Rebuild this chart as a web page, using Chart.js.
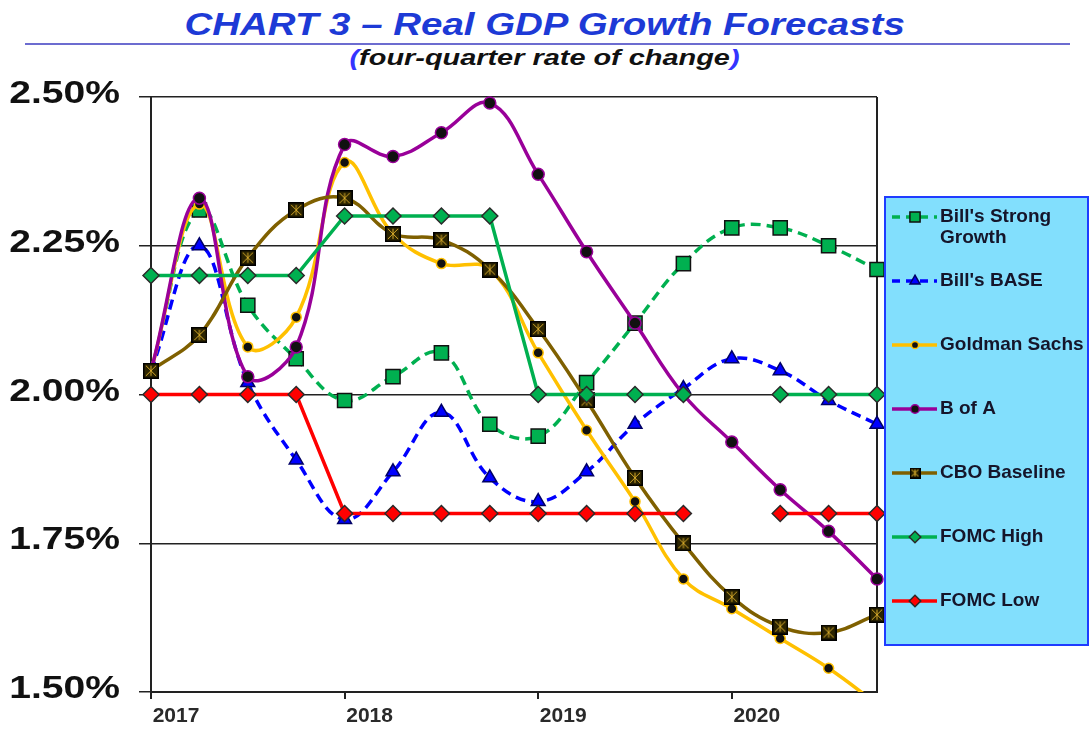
<!DOCTYPE html>
<html>
<head>
<meta charset="utf-8">
<title>Real GDP Growth Forecasts</title>
<script src="https://cdn.jsdelivr.net/npm/chart.js@4.4.1/dist/chart.umd.min.js"></script>
<style>
  html, body { margin: 0; padding: 0; background: #fff; }
  #wrap { position: relative; width: 1089px; height: 730px; overflow: hidden; }
  #chart { position: absolute; left: 0; top: 0; }
  .hdr { position: absolute; left: 0; width: 1089px; text-align: center; white-space: nowrap;
         font-family: "Liberation Sans", Arial, sans-serif; font-style: italic; font-weight: bold; }
  .hdr span { display: inline-block; transform-origin: 50% 50%; }
  #title { top: 8px; font-size: 32px; line-height: 32px; color: #1d3ad6; }
  #rule { position: absolute; left: 25px; top: 43px; width: 1045px; height: 2px; background: #6c6cd0; }
  #subtitle { top: 47px; font-size: 22px; line-height: 22px; color: #111; }
  #subtitle .par { color: #3434ff; }
</style>
</head>
<body>
<div id="wrap">
  <div id="title" class="hdr"><span>CHART 3 – Real GDP Growth Forecasts</span></div>
  <div id="rule"></div>
  <div id="subtitle" class="hdr"><span><i class="par">(</i>four-quarter rate of change<i class="par">)</i></span></div>
  <canvas id="chart" width="1089" height="730"></canvas>
</div>
<script>
/* ─── Data (four-quarter % change) ─── */
const QUARTERS = [
  '2017Q1','2017Q2','2017Q3','2017Q4',
  '2018Q1','2018Q2','2018Q3','2018Q4',
  '2019Q1','2019Q2','2019Q3','2019Q4',
  '2020Q1','2020Q2','2020Q3','2020Q4',
];
const STRONG_GROWTH = [2.04, 2.31, 2.15, 2.06, 1.99, 2.03, 2.07, 1.95, 1.93, 2.02, 2.12, 2.22, 2.28, 2.28, 2.25, 2.21];
const BILLS_BASE    = [2.04, 2.25, 2.02, 1.89, 1.79, 1.87, 1.97, 1.86, 1.82, 1.87, 1.95, 2.01, 2.06, 2.04, 1.99, 1.95];
const GOLDMAN       = [2.04, 2.32, 2.08, 2.13, 2.39, 2.27, 2.22, 2.21, 2.07, 1.94, 1.82, 1.69, 1.64, 1.59, 1.54, 1.48];
const B_OF_A        = [2.04, 2.33, 2.03, 2.08, 2.42, 2.40, 2.44, 2.49, 2.37, 2.24, 2.12, 2.00, 1.92, 1.84, 1.77, 1.69];
const CBO_BASELINE  = [2.04, 2.10, 2.23, 2.31, 2.33, 2.27, 2.26, 2.21, 2.11, 1.99, 1.86, 1.75, 1.66, 1.61, 1.60, 1.63];
const FOMC_HIGH     = [2.20, 2.20, 2.20, 2.20, 2.30, 2.30, 2.30, 2.30, 2.00, 2.00, 2.00, 2.00, null, 2.00, 2.00, 2.00];
const FOMC_LOW      = [2.00, 2.00, 2.00, 2.00, 1.80, 1.80, 1.80, 1.80, 1.80, 1.80, 1.80, 1.80, null, 1.80, 1.80, 1.80];
const Y_MIN = 1.50, Y_MAX = 2.50, Y_STEP = 0.25;

const FONT = '"Liberation Sans", Arial, sans-serif';

/* squeeze header text to the width it has in the original */
function fitWidth(sel, target) {
  const el = document.querySelector(sel);
  el.style.transform = `scaleX(${target / el.offsetWidth})`;
}
fitWidth('#title span', 720);
fitWidth('#subtitle span', 390);

/* CBO marker: dark square with a gold star */
function starSquare(size) {
  const c = document.createElement('canvas');
  c.width = c.height = size;
  const g = c.getContext('2d');
  g.fillStyle = '#000'; g.fillRect(0, 0, size, size);
  g.fillStyle = '#2c2400'; g.fillRect(1.5, 1.5, size - 3, size - 3);
  g.strokeStyle = '#d4a82a'; g.lineWidth = 1;
  const m = size / 2, r = size * 0.32;
  g.beginPath();
  g.moveTo(m, m - r); g.lineTo(m, m + r);
  g.moveTo(m - r, m - r); g.lineTo(m + r, m + r);
  g.moveTo(m + r, m - r); g.lineTo(m - r, m + r);
  g.stroke();
  return c;
}

const CLIP = { left: 14, top: 14, right: 14, bottom: 0 };

const SERIES = [
  { label: "Bill's Strong Growth", data: STRONG_GROWTH, color: '#00b050', dash: [10, 6], style: 'rect',
    bg: '#00b050', edge: '#111', radius: 10, smooth: true },
  { label: "Bill's BASE", data: BILLS_BASE, color: '#0000ff', dash: [10, 6], style: 'triangle',
    bg: '#0000ff', edge: '#000066', radius: 8, smooth: true },
  { label: 'Goldman Sachs', data: GOLDMAN, color: '#ffc000', dash: [], style: 'circle',
    bg: '#111', edge: '#ffc000', radius: 5, smooth: true },
  { label: 'B of A', data: B_OF_A, color: '#990099', dash: [], style: 'circle',
    bg: '#111', edge: '#990099', radius: 6, smooth: true },
  { label: 'CBO Baseline', data: CBO_BASELINE, color: '#7f6000', dash: [], style: starSquare(16),
    legendStyle: starSquare(11), bg: '#111', edge: '#111', radius: 8, smooth: true },
  { label: 'FOMC High', data: FOMC_HIGH, color: '#00b050', dash: [], style: 'rectRot',
    bg: '#00b050', edge: '#2a2a2a', radius: 8, smooth: false },
  { label: 'FOMC Low', data: FOMC_LOW, color: '#ff0000', dash: [], style: 'rectRot',
    bg: '#ff0000', edge: '#2a2a2a', radius: 8, smooth: false },
];

/* ─── plugins ─── */
const frame = {
  id: 'frame',
  beforeDatasetsDraw(chart) {
    const { ctx, chartArea: a } = chart;
    ctx.save();
    ctx.strokeStyle = '#222'; ctx.lineWidth = 2;
    ctx.beginPath();
    ctx.moveTo(a.right, a.top); ctx.lineTo(a.right, a.bottom);
    ctx.stroke();
    ctx.restore();
  }
};

const yLabels = {
  id: 'yLabels',
  afterDraw(chart) {
    const { ctx, scales: { y } } = chart;
    ctx.save();
    ctx.font = `bold 31px ${FONT}`;
    ctx.fillStyle = '#111';
    ctx.textAlign = 'right';
    ctx.textBaseline = 'alphabetic';
    y.ticks.forEach(t => {
      const py = y.getPixelForValue(t.value);
      ctx.save();
      ctx.translate(120, py + 6);
      ctx.scale(1.26, 1);
      ctx.fillText(t.value.toFixed(2) + '%', 0, 0);
      ctx.restore();
    });
    ctx.restore();
  }
};

const legendBox = {
  id: 'legendBox',
  afterDraw(chart) {
    const { ctx } = chart;
    const box = { x: 885, y: 197, w: 203, h: 448 };
    ctx.save();
    ctx.fillStyle = '#82dffd';
    ctx.fillRect(box.x, box.y, box.w, box.h);
    ctx.strokeStyle = '#1f3cff'; ctx.lineWidth = 2;
    ctx.strokeRect(box.x, box.y, box.w, box.h);

    ctx.font = `bold 19px ${FONT}`;
    ctx.textBaseline = 'middle';
    ctx.textAlign = 'left';
    SERIES.forEach((s, i) => {
      const cy = 217 + i * 64;
      /* sample line */
      ctx.strokeStyle = s.color; ctx.lineWidth = 3.5;
      ctx.setLineDash(s.dash.length ? [8, 6] : []);
      ctx.beginPath(); ctx.moveTo(892, cy); ctx.lineTo(937, cy); ctx.stroke();
      ctx.setLineDash([]);
      /* sample marker */
      ctx.fillStyle = s.bg; ctx.strokeStyle = s.edge; ctx.lineWidth = 1.5;
      Chart.helpers.drawPoint(ctx, {
        pointStyle: s.legendStyle || s.style, radius: s.radius * 0.72, rotation: 0, borderWidth: 1.5
      }, 915, cy);
      /* text, wrapped to the box */
      ctx.fillStyle = '#15152a';
      const words = s.label.split(' ');
      let line = '', ly = cy;
      words.forEach(w => {
        const next = line ? line + ' ' + w : w;
        if (line && ctx.measureText(next).width > 147) {
          ctx.fillText(line, 940, ly); line = w; ly += 21;
        } else line = next;
      });
      ctx.fillText(line, 940, ly);
    });
    ctx.restore();
  }
};

/* ─── chart ─── */
const datasets = SERIES.map((s, i) => ({
  label: s.label,
  data: s.data,
  borderColor: s.color,
  borderWidth: 3.5,
  borderDash: s.dash,
  tension: s.smooth ? 0.4 : 0,
  pointStyle: s.style,
  pointRadius: s.radius,
  pointBackgroundColor: s.bg,
  pointBorderColor: s.edge,
  pointBorderWidth: 1.5,
  spanGaps: false,
  clip: CLIP,
  order: SERIES.length - i,
}));

new Chart(document.getElementById('chart'), {
  type: 'line',
  data: { labels: QUARTERS, datasets },
  options: {
    responsive: false,
    animation: false,
    events: [],
    layout: { padding: { top: 97, right: 212, bottom: 0, left: 0 } },
    plugins: { legend: { display: false }, tooltip: { enabled: false }, title: { display: false } },
    scales: {
      x: {
        type: 'category',
        offset: false,
        grid: {
          drawOnChartArea: false, drawTicks: true, tickLength: 7, lineWidth: 2,
          color: c => (c.index % 4 === 0 ? '#222' : 'rgba(0,0,0,0)'),
        },
        border: { display: true, color: '#222', width: 2 },
        ticks: {
          autoSkip: false, maxRotation: 0, minRotation: 0, padding: 5, labelOffset: 25,
          color: '#2a2a2a', font: { family: FONT, size: 21, weight: 'bold' },
          callback: (v, i) => (i % 4 === 0 ? QUARTERS[i].slice(0, 4) : ''),
        },
        afterFit: s => { s.height = 38; },
      },
      y: {
        min: Y_MIN, max: Y_MAX,
        ticks: { stepSize: Y_STEP, display: false },
        grid: { color: '#222', lineWidth: 1.5, drawTicks: true, tickLength: 12 },
        border: { display: true, color: '#222', width: 2 },
        afterFit: s => { s.width = 151; },
      },
    },
  },
  plugins: [frame, yLabels, legendBox],
});
</script>
</body>
</html>
